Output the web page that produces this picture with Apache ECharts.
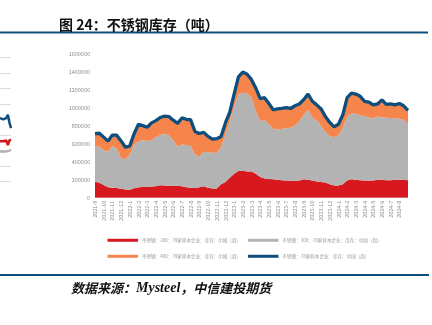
<!DOCTYPE html>
<html>
<head>
<meta charset="utf-8">
<script src="https://cdn.jsdelivr.net/npm/echarts@6/dist/echarts.min.js"></script>
<style>
html,body{margin:0;padding:0;background:#fff;}
#c{width:432px;height:325px;}
</style>
</head>
<body>
<div id="c"></div>
<script>
// ---- data (tonnes), two readings per month, from 2021-9 to early 2024-9 ----
const monthLabels = ['2021-9','2021-10','2021-11','2021-12','2022-1','2022-2','2022-3','2022-4','2022-5','2022-6','2022-7','2022-8','2022-9','2022-10','2022-11','2022-12','2023-1','2023-2','2023-3','2023-4','2023-5','2023-6','2023-7','2023-8','2023-9','2023-10','2023-11','2023-12','2024-1','2024-2','2024-3','2024-4','2024-5','2024-6','2024-7','2024-8'];
const lastPoint = '2024-9';

const s200 = [177,165,140,115,110,108,100,90,88,105,115,118,120,125,128,138,135,132,130,132,128,115,110,108,115,128,110,103,103,150,175,220,265,295,298,292,290,265,230,212,207,205,200,195,190,188,185,190,205,200,190,180,175,168,150,135,135,150,190,205,200,195,192,190,192,198,200,195,195,198,198,198,195];
const s300 = [395,400,388,395,465,437,340,338,392,485,510,520,510,515,542,557,577,558,508,433,462,470,460,372,343,382,395,397,397,410,525,630,745,855,867,863,820,695,620,653,608,560,555,570,580,587,615,660,710,775,700,680,620,562,535,535,559,630,705,735,728,720,713,700,688,702,690,693,690,682,677,667,620];
const s400 = [140,150,144,118,120,149,190,132,95,120,190,162,152,190,185,195,193,210,222,260,295,285,295,255,254,215,175,150,155,120,130,100,140,190,230,215,200,255,250,245,230,210,230,225,230,215,220,190,173,175,180,170,190,170,150,115,121,140,215,220,222,210,165,170,150,140,195,147,155,150,170,155,155];
const total = [712,715,672,628,695,694,630,560,575,710,815,800,782,830,855,890,905,900,860,825,885,870,865,735,712,725,680,650,655,680,830,950,1150,1340,1395,1370,1310,1215,1100,1110,1045,975,985,990,1000,990,1020,1040,1088,1150,1070,1030,985,900,835,785,815,920,1110,1160,1150,1125,1070,1060,1030,1040,1085,1035,1040,1030,1045,1020,970];
const yTicks = [0,200000,400000,600000,800000,1000000,1200000,1400000,1600000];

// edge of the neighbouring chart cut off at the left side
const edgeBlue = [4.1,4.1,4.0,4.1,4.1,4.3,3.8,3.45];
const edgeRed  = [2.6,2.6,2.6,2.6,2.65,2.35,2.65,2.7];
const edgeGray = [1.95,1.95,1.95,1.95,1.95,1.95,2.0,2.05];

const names = [
  '不锈钢：200：78家样本企业：库存：中国（周）',
  '不锈钢：300：78家样本企业：库存：中国（周）',
  '不锈钢：400：78家样本企业：库存：中国（周）',
  '不锈钢：78家样本企业：库存：中国（周）'
];

const categories = [];
monthLabels.forEach(m => { categories.push(m + '|1'); categories.push(m + '|2'); });
categories.push(lastPoint + '|1');

const k = a => a.map(v => v * 1000);

const C_RED = '#d7191f', C_GRAY = '#b3b3b3', C_ORANGE = '#f5854b', C_BLUE = '#0d4e7d';
const FONT = '"Noto Sans CJK SC", "Noto Sans", sans-serif';

const legendCommon = {
  itemWidth: 30.5, itemHeight: 3, itemGap: 7, icon: 'rect',
  textStyle: {fontSize: 4.55, color: '#9a9a9a', fontFamily: FONT, padding: [0, 0, 0, -1]}
};

const chart = echarts.init(document.getElementById('c'), null, {renderer: 'canvas'});
chart.setOption({
  backgroundColor: '#fff',
  animation: false,
  textStyle: {fontFamily: FONT},
  title: {
    text: '图 24：不锈钢库存（吨）',
    left: 54, top: 13,
    textStyle: {fontSize: 14, fontWeight: 'bold', color: '#111', fontFamily: FONT}
  },
  graphic: [
    {type: 'line', shape: {x1: 0, y1: 32.5, x2: 428, y2: 32.5}, style: {stroke: C_BLUE, lineWidth: 2}},
    {type: 'line', shape: {x1: 0, y1: 275, x2: 429, y2: 275}, style: {stroke: C_BLUE, lineWidth: 2}},
    {type: 'text', left: 71, top: 281,
      style: {
        text: '{a|数据来源：}{b|Mysteel}{a|，中信建投期货}',
        rich: {
          a: {fontSize: 13, fontStyle: 'italic', fontWeight: 'bold', fontFamily: FONT, fill: '#111'},
          b: {fontSize: 14, fontStyle: 'italic', fontWeight: 'bold', fontFamily: '"Liberation Serif", serif', fill: '#111'}
        }
      }
    }
  ],
  legend: [
    Object.assign({data: [names[0], names[1]], left: 102.5, top: 233}, legendCommon),
    Object.assign({data: [names[2], names[3]], left: 102.5, top: 249}, legendCommon)
  ],
  grid: [
    {left: 95, right: 24, top: 53.5, bottom: 127.3},
    {left: -20, width: 31, top: 57.3, height: 124.4}
  ],
  xAxis: [
    {
      type: 'category', gridIndex: 0, data: categories, boundaryGap: false,
      axisLine: {show: true, lineStyle: {color: '#d9d9d9', width: 1}},
      axisTick: {show: false},
      axisLabel: {
        rotate: 90, fontSize: 5.5, color: '#8c8c8c', margin: 3,
        interval: (i, v) => v.endsWith('|1') && monthLabels.includes(v.split('|')[0]),
        formatter: v => v.split('|')[0]
      },
      splitLine: {show: false}
    },
    {
      type: 'category', gridIndex: 1, data: edgeBlue.map((_, i) => 'e' + i), boundaryGap: false,
      show: false
    }
  ],
  yAxis: [
    {
      type: 'value', gridIndex: 0, min: 0, max: 1600000, interval: 200000,
      axisLine: {show: false}, axisTick: {show: false},
      axisLabel: {fontSize: 5.5, color: '#8c8c8c', margin: 5, formatter: v => String(v)},
      splitLine: {show: false}
    },
    {
      type: 'value', gridIndex: 1, min: 0, max: 8, interval: 1,
      axisLine: {show: false}, axisTick: {show: false}, axisLabel: {show: false},
      splitLine: {show: true, lineStyle: {color: '#dcdcdc', width: 1}}
    }
  ],
  series: [
    {
      name: names[0], type: 'line', stack: 'inv', data: k(s200), symbol: 'none',
      lineStyle: {width: 0}, areaStyle: {color: C_RED, opacity: 1}, itemStyle: {color: C_RED}
    },
    {
      name: names[1], type: 'line', stack: 'inv', data: k(s300), symbol: 'none',
      lineStyle: {width: 0}, areaStyle: {color: C_GRAY, opacity: 1}, itemStyle: {color: C_GRAY}
    },
    {
      name: names[2], type: 'line', stack: 'inv', data: k(s400), symbol: 'none',
      lineStyle: {width: 0}, areaStyle: {color: C_ORANGE, opacity: 1}, itemStyle: {color: C_ORANGE}
    },
    {
      name: names[3], type: 'line', data: k(total), symbol: 'none', z: 5,
      lineStyle: {width: 3.3, color: C_BLUE}, itemStyle: {color: C_BLUE}
    },
    {type: 'line', xAxisIndex: 1, yAxisIndex: 1, data: edgeBlue, symbol: 'none', lineStyle: {width: 2.5, color: C_BLUE}, silent: true},
    {type: 'line', xAxisIndex: 1, yAxisIndex: 1, data: edgeRed, symbol: 'none', lineStyle: {width: 2.5, color: C_RED}, silent: true},
    {type: 'line', xAxisIndex: 1, yAxisIndex: 1, data: edgeGray, symbol: 'none', lineStyle: {width: 2.5, color: C_GRAY}, silent: true}
  ]
});
</script>
</body>
</html>
